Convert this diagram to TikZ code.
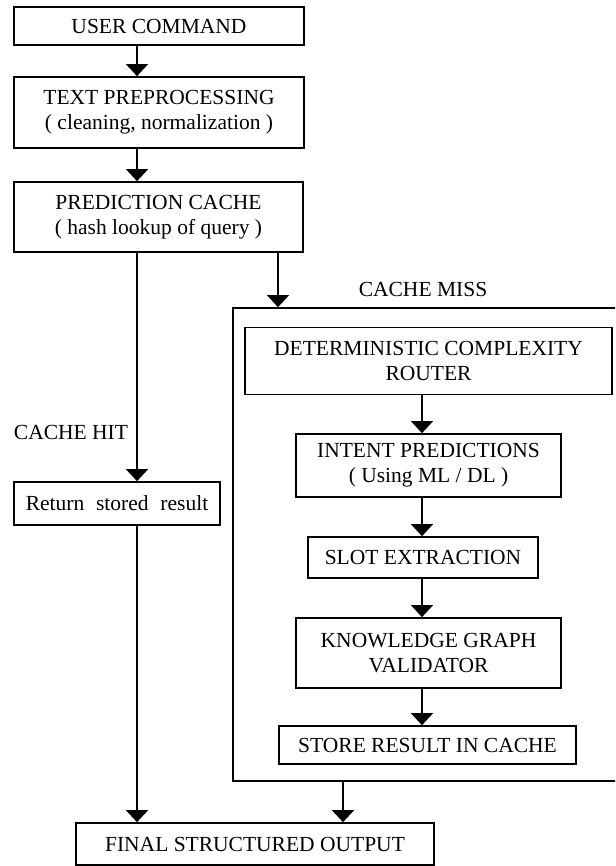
\documentclass[tikz,border=0pt]{standalone}
\usepackage{fontspec}
\setmainfont{Liberation Serif}
\usetikzlibrary{arrows.meta}
\newcommand\fsz{\fontsize{21.5}{25}\selectfont}
\begin{document}
\begin{tikzpicture}[x=1pt,y=-1pt,
  box/.style={draw, line width=1.7pt, inner sep=0pt, align=center, font=\fsz},
  lbl/.style={inner sep=0pt, font=\fsz},
  arr/.style={-{Triangle[width=22pt,length=12pt]}, line width=1.7pt}]
\useasboundingbox (0,0) rectangle (615,866);
\clip (0,0) rectangle (615,866);
% main column
\node[box, minimum width=290pt, minimum height=38pt] (uc) at (159,26) {USER COMMAND};
\node[box, minimum width=290pt, minimum height=71pt] (tp) at (159,112.5) {TEXT PREPROCESSING\\( cleaning, normalization )};
\node[box, minimum width=289pt, minimum height=70pt] (pc) at (158.5,217) {PREDICTION CACHE\\( hash lookup of query )};
\node[box, minimum width=206pt, minimum height=43pt] (ret) at (117,503.5) {Return\hspace{0.55em}stored\hspace{0.55em}result};
\node[box, minimum width=358pt, minimum height=42pt] (fso) at (255,844) {FINAL STRUCTURED OUTPUT};
% cache miss container
\node[draw, line width=1.7pt, inner sep=0pt, minimum width=392pt, minimum height=473pt] (miss) at (429,544.5) {};
\node[box, minimum width=367pt, minimum height=67pt] (dcr) at (428.5,361) {DETERMINISTIC COMPLEXITY\\ROUTER};
\node[box, minimum width=265pt, minimum height=63pt] (ip) at (428.5,465.5) {INTENT PREDICTIONS\\( Using ML / DL )};
\node[box, minimum width=230pt, minimum height=41pt] (se) at (423,557.5) {SLOT EXTRACTION};
\node[box, minimum width=265pt, minimum height=70pt] (kgv) at (428.5,653) {KNOWLEDGE GRAPH\\VALIDATOR};
\node[box, minimum width=297pt, minimum height=38pt] (sric) at (427.5,745) {STORE RESULT IN CACHE};
% labels
\node[lbl] (hit) at (71,432) {CACHE HIT};
\node[lbl] (misslbl) at (423,289) {CACHE MISS};
% arrow columns
\coordinate (cl) at (137,0);
\coordinate (cm) at (278,0);
\coordinate (cb) at (343,0);
\coordinate (ci) at (422,0);
% connectors
\draw[arr] (uc.south -| cl) -- (tp.north -| cl);
\draw[arr] (tp.south -| cl) -- (pc.north -| cl);
\draw[arr] (pc.south -| cl) -- (ret.north -| cl);
\draw[arr] (pc.south -| cm) -- (miss.north -| cm);
\draw[arr] (ret.south -| cl) -- (fso.north -| cl);
\draw[arr] (miss.south -| cb) -- (fso.north -| cb);
\draw[arr] (dcr.south -| ci) -- (ip.north -| ci);
\draw[arr] (ip.south -| ci) -- (se.north -| ci);
\draw[arr] (se.south -| ci) -- (kgv.north -| ci);
\draw[arr] (kgv.south -| ci) -- (sric.north -| ci);
\end{tikzpicture}
\end{document}
